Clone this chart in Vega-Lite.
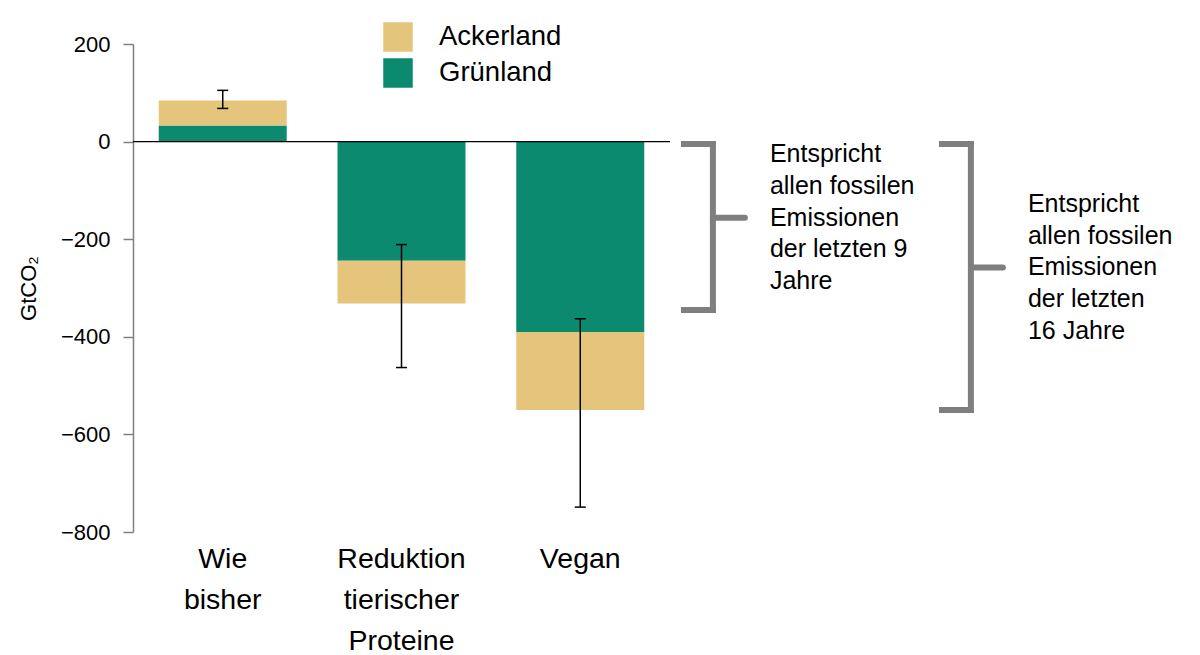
{
  "$schema": "https://vega.github.io/schema/vega-lite/v6.json",
  "background": "white",
  "padding": {"left": 17, "top": 22, "right": 0, "bottom": 0},
  "datasets": {
    "balken": [
      {"Szenario": "Wie bisher", "Landart": "Grünland", "GtCO2": 33},
      {"Szenario": "Wie bisher", "Landart": "Ackerland", "GtCO2": 51},
      {"Szenario": "Reduktion tierischer Proteine", "Landart": "Grünland", "GtCO2": -244},
      {"Szenario": "Reduktion tierischer Proteine", "Landart": "Ackerland", "GtCO2": -88},
      {"Szenario": "Vegan", "Landart": "Grünland", "GtCO2": -390},
      {"Szenario": "Vegan", "Landart": "Ackerland", "GtCO2": -160}
    ],
    "fehler": [
      {"Szenario": "Wie bisher", "min": 68, "max": 105},
      {"Szenario": "Reduktion tierischer Proteine", "min": -463, "max": -211},
      {"Szenario": "Vegan", "min": -749, "max": -363}
    ],
    "nulllinie": [{"wert": 0}],
    "klammern": [
      {"Zeitraum": "9 Jahre", "oben": -5, "unten": -345, "mitte": -156, "Text": "Entspricht\nallen fossilen\nEmissionen\nder letzten 9\nJahre"},
      {"Zeitraum": "16 Jahre", "oben": -5, "unten": -550, "mitte": -258, "Text": "Entspricht\nallen fossilen\nEmissionen\nder letzten\n16 Jahre"}
    ]
  },
  "hconcat": [
    {
      "width": 537,
      "height": 488,
      "layer": [
        {
          "data": {"name": "balken"},
          "mark": {"type": "bar"},
          "encoding": {
            "x": {
              "field": "Szenario", "type": "nominal", "sort": null,
              "scale": {"paddingInner": 0.284, "paddingOuter": 0.144},
              "axis": {
                "title": null, "domain": false, "ticks": false, "labelAngle": 0,
                "labelFont": "Liberation Sans", "labelFontSize": 28.5, "labelLineHeight": 41,
                "labelPadding": 12, "labelColor": "black", "labelBaseline": "top",
                "labelExpr": "split(datum.label, ' ')"
              }
            },
            "y": {
              "field": "GtCO2", "type": "quantitative", "stack": "zero",
              "scale": {"domain": [-800, 200], "nice": false, "zero": false},
              "axis": {
                "title": "GtCO₂", "values": [200, 0, -200, -400, -600, -800], "grid": false,
                "domainColor": "#808080", "domainWidth": 1.5, "tickColor": "#808080", "tickWidth": 1.5,
                "tickSize": 10, "labelPadding": 13, "labelFont": "Liberation Sans", "labelFontSize": 22,
                "labelColor": "black", "titleFont": "Liberation Sans", "titleFontSize": 22,
                "titleFontWeight": "normal", "titleColor": "black", "titlePadding": 20
              }
            },
            "color": {
              "field": "Landart", "type": "nominal",
              "scale": {"domain": ["Ackerland", "Grünland"], "range": ["#e5c47c", "#0c8a6f"]},
              "legend": {
                "title": null, "orient": "none", "legendX": 250, "legendY": -22,
                "symbolType": "square", "symbolSize": 870, "symbolStrokeWidth": 0, "symbolOpacity": 1,
                "labelFont": "Liberation Sans", "labelFontSize": 27.5, "labelColor": "black",
                "labelOffset": 26, "rowPadding": 6, "padding": 0
              }
            },
            "order": {"field": "Landart", "sort": "descending"}
          }
        },
        {
          "data": {"name": "fehler"},
          "mark": {"type": "rule", "color": "black", "strokeWidth": 1.5},
          "encoding": {
            "x": {"field": "Szenario", "type": "nominal", "sort": null},
            "y": {"field": "min", "type": "quantitative"},
            "y2": {"field": "max"}
          }
        },
        {
          "data": {"name": "fehler"},
          "mark": {"type": "tick", "orient": "horizontal", "color": "black", "size": 11, "thickness": 1.5, "opacity": 1},
          "encoding": {
            "x": {"field": "Szenario", "type": "nominal", "sort": null},
            "y": {"field": "min", "type": "quantitative"}
          }
        },
        {
          "data": {"name": "fehler"},
          "mark": {"type": "tick", "orient": "horizontal", "color": "black", "size": 11, "thickness": 1.5, "opacity": 1},
          "encoding": {
            "x": {"field": "Szenario", "type": "nominal", "sort": null},
            "y": {"field": "max", "type": "quantitative"}
          }
        },
        {
          "data": {"name": "nulllinie"},
          "mark": {"type": "rule", "color": "black", "strokeWidth": 1.3},
          "encoding": {
            "y": {"field": "wert", "type": "quantitative"}
          }
        }
      ]
    },
    {
      "width": 516,
      "height": 488,
      "data": {"name": "klammern"},
      "encoding": {
        "y": {"field": "oben", "type": "quantitative", "axis": null}
      },
      "layer": [
        {
          "mark": {"type": "rule", "color": "#7f7f7f", "strokeWidth": 6, "strokeCap": "square"},
          "encoding": {
            "x": {"field": "Zeitraum", "type": "nominal", "sort": null, "bandPosition": 0.112,
                  "scale": {"paddingInner": 0, "paddingOuter": 0}, "axis": null},
            "y": {"field": "oben", "type": "quantitative", "axis": null},
            "y2": {"field": "unten"}
          }
        },
        {
          "mark": {"type": "rule", "color": "#7f7f7f", "strokeWidth": 6, "strokeCap": "square"},
          "encoding": {
            "x": {"field": "Zeitraum", "type": "nominal", "sort": null, "bandPosition": 0},
            "x2": {"field": "Zeitraum", "bandPosition": 0.112},
            "y": {"field": "oben", "type": "quantitative"}
          }
        },
        {
          "mark": {"type": "rule", "color": "#7f7f7f", "strokeWidth": 6, "strokeCap": "square"},
          "encoding": {
            "x": {"field": "Zeitraum", "type": "nominal", "sort": null, "bandPosition": 0},
            "x2": {"field": "Zeitraum", "bandPosition": 0.112},
            "y": {"field": "unten", "type": "quantitative"}
          }
        },
        {
          "mark": {"type": "rule", "color": "#7f7f7f", "strokeWidth": 6, "strokeCap": "round"},
          "encoding": {
            "x": {"field": "Zeitraum", "type": "nominal", "sort": null, "bandPosition": 0.112},
            "x2": {"field": "Zeitraum", "bandPosition": 0.236},
            "y": {"field": "mitte", "type": "quantitative"}
          }
        },
        {
          "mark": {"type": "text", "align": "left", "baseline": "middle", "lineBreak": "\n", "dy": -63.4,
                   "font": "Liberation Sans", "fontSize": 25, "lineHeight": 31.7, "color": "black"},
          "encoding": {
            "x": {"field": "Zeitraum", "type": "nominal", "sort": null, "bandPosition": 0.333},
            "y": {"field": "mitte", "type": "quantitative"},
            "text": {"field": "Text"}
          }
        }
      ]
    }
  ],
  "spacing": 8,
  "resolve": {"scale": {"y": "shared", "x": "independent"}},
  "config": {"view": {"stroke": null}}
}
